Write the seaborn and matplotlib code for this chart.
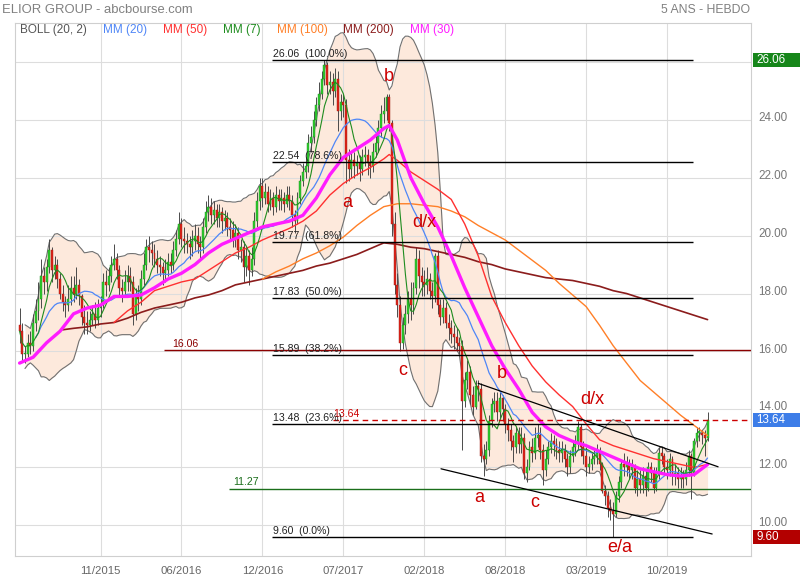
import numpy as np
import pandas as pd
import matplotlib
matplotlib.use("Agg")
import matplotlib.pyplot as plt
import matplotlib.transforms as mtransforms
from matplotlib.patches import Rectangle
import seaborn as sns

# weekly closes (bar 0 = spring 2015, last bar = Jan 2020)
first_open = 16.9
closes = [
    16.7, 15.9, 15.9, 16.3, 16.2, 17.0, 17.4, 17.8, 18.6, 18.4,
    18.9, 19.5, 18.8, 19.0, 18.5, 18.0, 17.7, 17.6, 17.8, 18.2,
    18.0, 18.3, 17.9, 17.2, 17.0, 16.9, 17.1, 17.3, 17.1, 17.5,
    17.6, 18.4, 18.3, 18.6, 19.0, 19.2, 18.8, 18.2, 18.1, 18.4,
    18.6, 18.4, 17.3, 17.9, 17.8, 18.5, 19.0, 19.6, 19.5, 19.4,
    19.2, 19.0, 18.9, 18.7, 18.8, 19.1, 19.0, 19.5, 19.9, 20.4,
    19.9, 19.8, 19.7, 19.6, 19.8, 20.0, 19.7, 19.6, 20.3, 20.8,
    21.0, 20.7, 20.9, 20.6, 20.8, 20.5, 20.6, 20.3, 20.2, 19.9,
    20.1, 19.5, 19.6, 18.9, 19.3, 18.8, 19.2, 20.5, 21.2, 21.7,
    21.3, 21.5, 21.1, 21.3, 21.0, 21.4, 21.2, 21.3, 21.1, 21.4,
    21.2, 20.7, 20.5, 21.3, 21.9, 22.2, 22.4, 23.2, 23.4, 24.0,
    24.5, 24.9, 25.4, 25.9, 25.2, 25.3, 25.0, 25.4, 24.3, 24.6,
    24.5, 22.6, 22.3, 22.6, 22.4, 22.5, 22.3, 22.7, 22.8, 22.5,
    22.4, 22.9, 23.2, 23.7, 24.2, 24.3, 24.8, 23.9, 20.4, 18.3,
    17.6, 16.3, 16.9, 17.3, 17.8, 17.6, 18.2, 19.2, 18.6, 18.4,
    18.3, 18.5, 18.1, 17.9, 19.3, 17.6, 17.2, 17.5, 17.0, 16.8,
    16.6, 16.5, 16.3, 16.2, 14.3, 15.0, 15.3, 14.5, 14.1, 14.8,
    14.7, 12.4, 12.3, 12.6, 13.6, 14.2, 14.3, 13.9, 14.4, 14.0,
    13.5, 13.3, 12.9, 12.7, 13.2, 12.8, 13.0, 11.8, 12.0, 12.7,
    12.5, 13.0, 13.1, 12.6, 11.9, 12.3, 12.7, 12.9, 12.8, 12.6,
    12.5, 12.6, 12.3, 12.0, 12.4, 12.7, 12.8, 13.4, 12.7, 12.4,
    12.0, 12.1, 12.3, 12.4, 12.5, 12.1, 11.2, 11.0, 10.6, 10.5,
    10.4, 11.0, 11.5, 12.1, 12.0, 12.1, 11.9, 12.0, 11.3, 11.6,
    11.4, 11.7, 11.3, 12.0, 11.8, 11.3, 11.8, 12.5, 12.4, 12.0,
    11.9, 12.3, 11.7, 11.8, 11.6, 11.7, 11.6, 11.9, 12.4, 11.8,
    12.9, 13.2, 13.2, 13.1, 13.0, 13.64,
]
highs = [
    17.5, 17.0, 16.2, 16.6, 16.7, 17.3, 17.8, 18.4, 19.2, 18.9,
    19.2, 19.9, 19.6, 19.3, 19.2, 18.7, 18.3, 17.9, 18.3, 18.6,
    18.6, 18.9, 18.5, 18.0, 17.6, 17.4, 17.4, 17.6, 17.7, 17.8,
    17.9, 18.7, 18.8, 18.9, 19.3, 19.7, 19.4, 19.0, 18.5, 18.8,
    19.0, 18.9, 18.6, 18.2, 18.3, 18.8, 19.4, 19.9, 20.0, 19.8,
    19.7, 19.5, 19.3, 19.1, 19.2, 19.4, 19.4, 19.8, 20.2, 20.8,
    20.6, 20.3, 20.1, 20.0, 20.2, 20.4, 20.3, 20.0, 20.6, 21.2,
    21.4, 21.3, 21.2, 21.1, 21.1, 21.0, 20.9, 20.8, 20.6, 20.5,
    20.4, 20.3, 19.9, 19.8, 19.6, 19.5, 19.6, 20.8, 21.5, 22.0,
    22.0, 21.8, 21.7, 21.6, 21.5, 21.7, 21.6, 21.6, 21.5, 21.7,
    21.7, 21.4, 20.9, 21.5, 22.1, 22.5, 22.7, 23.5, 23.8, 24.3,
    24.8, 25.3, 25.7, 26.06, 26.0, 25.7, 25.6, 25.8, 25.7, 24.9,
    24.9, 24.7, 23.0, 22.9, 22.9, 22.8, 22.8, 23.0, 23.1, 23.0,
    22.8, 23.2, 23.5, 24.0, 24.5, 24.8, 24.9, 24.9, 24.0, 20.8,
    18.7, 17.9, 17.2, 17.6, 18.1, 18.4, 18.4, 19.6, 19.5, 18.9,
    18.8, 18.9, 18.7, 18.4, 19.4, 19.5, 17.8, 17.8, 17.7, 17.3,
    17.1, 16.9, 16.8, 16.5, 16.4, 15.3, 15.7, 15.5, 14.8, 15.0,
    15.0, 14.9, 12.8, 12.9, 13.8, 14.4, 14.6, 14.6, 14.6, 14.5,
    14.2, 13.7, 13.5, 13.1, 13.4, 13.4, 13.4, 13.2, 12.3, 12.9,
    13.0, 13.4, 13.5, 13.4, 12.8, 12.6, 12.9, 13.2, 13.1, 13.0,
    12.9, 12.9, 12.8, 12.5, 12.6, 12.9, 13.1, 13.6, 13.5, 12.9,
    12.7, 12.4, 12.5, 12.6, 12.8, 12.7, 12.2, 11.4, 11.2, 10.9,
    10.8, 11.2, 11.7, 12.3, 12.5, 12.4, 12.3, 12.3, 12.1, 11.9,
    11.9, 12.0, 11.9, 12.2, 12.2, 12.0, 12.0, 12.7, 12.7, 12.5,
    12.3, 12.5, 12.4, 12.1, 12.0, 12.0, 11.9, 12.2, 12.6, 12.5,
    13.0, 13.4, 13.4, 13.3, 13.3, 13.9,
]
lows = [
    16.3, 15.7, 15.6, 15.8, 15.9, 16.0, 16.7, 17.1, 17.5, 18.0,
    18.1, 18.7, 18.4, 18.5, 18.2, 17.8, 17.4, 17.2, 17.4, 17.6,
    17.7, 17.8, 17.6, 16.9, 16.6, 16.6, 16.7, 16.9, 16.8, 16.9,
    17.2, 17.5, 17.9, 18.1, 18.4, 18.8, 18.5, 17.9, 17.7, 17.9,
    18.1, 18.1, 16.9, 17.1, 17.4, 17.6, 18.3, 18.8, 19.1, 19.0,
    18.9, 18.7, 18.6, 18.3, 18.4, 18.6, 18.7, 18.8, 19.3, 19.7,
    19.6, 19.4, 19.4, 19.2, 19.3, 19.5, 19.4, 19.2, 19.4, 20.1,
    20.5, 20.4, 20.4, 20.3, 20.3, 20.1, 20.2, 20.0, 19.8, 19.6,
    19.6, 19.2, 19.1, 18.4, 18.6, 18.3, 18.6, 19.0, 20.3, 20.9,
    21.0, 21.1, 20.8, 20.9, 20.7, 20.8, 20.9, 20.9, 20.8, 21.0,
    20.9, 20.3, 20.1, 20.4, 21.1, 21.7, 22.0, 22.2, 22.9, 23.2,
    23.8, 24.3, 24.7, 25.2, 24.9, 24.9, 24.5, 24.8, 23.6, 24.0,
    24.1, 21.8, 21.9, 22.0, 22.0, 22.1, 21.9, 22.1, 22.4, 22.1,
    22.0, 22.2, 22.7, 22.9, 23.4, 23.9, 24.0, 23.6, 20.0, 18.0,
    17.2, 16.0, 16.1, 16.6, 17.0, 17.1, 17.3, 18.0, 18.2, 17.9,
    17.9, 18.0, 17.8, 17.5, 17.7, 17.3, 16.9, 17.0, 16.8, 16.4,
    16.3, 16.1, 16.0, 15.9, 12.6, 14.1, 14.7, 14.2, 13.8, 14.0,
    14.3, 12.2, 11.7, 12.1, 12.4, 13.4, 13.9, 13.6, 13.7, 13.6,
    13.2, 12.9, 12.6, 12.2, 12.5, 12.5, 12.5, 11.6, 11.5, 11.9,
    12.2, 12.3, 12.7, 12.3, 11.4, 11.7, 12.1, 12.5, 12.4, 12.3,
    12.2, 12.2, 12.0, 11.7, 11.8, 12.2, 12.4, 12.6, 12.4, 12.1,
    11.7, 11.8, 11.9, 12.1, 12.1, 11.9, 11.1, 10.7, 10.3, 10.2,
    9.6, 10.3, 10.8, 11.3, 11.7, 11.7, 11.6, 11.6, 11.1, 11.0,
    11.1, 11.1, 11.0, 11.2, 11.5, 11.1, 11.2, 11.6, 12.1, 11.8,
    11.6, 11.7, 11.4, 11.4, 11.3, 11.3, 11.3, 11.4, 11.7, 10.9,
    11.7, 12.7, 12.9, 12.8, 12.4, 12.9,
]

# long moving averages at sample bars
mm30_bars = [0, 5, 10, 15, 20, 25, 30, 35, 40, 45, 50, 55, 60, 65, 70, 75, 80, 85, 90, 95,
             100, 105, 110, 115, 120, 125, 130, 135, 137, 140, 145, 150, 155, 160, 165, 170,
             175, 180, 185, 190, 195, 200, 205, 210, 215, 220, 225, 230, 235, 240, 245, 250, 255]
mm30_vals = [15.6, 15.8, 16.3, 16.7, 17.3, 17.5, 17.6, 17.9, 17.9, 17.95, 18.2, 18.5, 18.7, 19.0,
             19.4, 19.7, 19.9, 20.1, 20.3, 20.4, 20.5, 20.7, 21.3, 22.1, 22.7, 23.0, 23.3, 23.7,
             23.8, 23.3, 22.0, 21.1, 20.3, 19.3, 18.2, 17.2, 16.2, 15.4, 14.7, 13.9, 13.4, 13.1,
             12.9, 12.75, 12.55, 12.35, 12.15, 11.95, 11.85, 11.75, 11.7, 11.75, 12.1]
mm50_bars = [35, 40, 45, 50, 55, 60, 65, 70, 75, 80, 85, 90, 95, 100, 105, 110, 115, 120, 125,
             130, 135, 137, 140, 145, 150, 155, 160, 165, 170, 175, 180, 185, 190, 195, 200,
             205, 210, 215, 220, 225, 230, 235, 240, 245, 250, 255]
mm50_vals = [17.0, 17.4, 17.7, 18.1, 18.25, 18.4, 18.5, 18.8, 19.1, 19.4, 19.6, 19.85, 20.05,
             20.25, 20.5, 20.85, 21.4, 21.8, 22.1, 22.35, 22.65, 22.8, 22.6, 22.2, 21.9, 21.6,
             21.25, 20.4, 19.3, 17.9, 17.0, 16.2, 15.5, 14.95, 14.5, 14.1, 13.5, 12.95, 12.75,
             12.6, 12.45, 12.3, 12.2, 12.1, 12.0, 12.1]
mm100_bars = [90, 95, 100, 105, 110, 115, 120, 125, 130, 135, 140, 145, 150, 155, 160, 165, 170,
              175, 180, 185, 190, 195, 200, 205, 210, 215, 220, 225, 230, 235, 240, 245, 250, 255]
mm100_vals = [18.5, 18.75, 18.95, 19.2, 19.4, 19.65, 19.95, 20.35, 20.7, 21.0, 21.1, 21.1, 21.05,
              21.0, 20.85, 20.65, 20.35, 20.1, 19.85, 19.5, 19.15, 18.8, 18.35, 17.95, 17.55,
              16.9, 16.2, 15.6, 15.0, 14.6, 14.2, 13.8, 13.45, 13.1]
mm200_bars = [16, 20, 25, 30, 35, 40, 45, 50, 55, 60, 65, 70, 75, 80, 85, 90, 95, 100, 105, 110,
              115, 120, 125, 130, 135, 140, 145, 150, 155, 160, 165, 170, 175, 180, 185, 190,
              195, 200, 205, 210, 215, 220, 225, 230, 235, 240, 245, 250, 255]
mm200_vals = [16.75, 16.8, 16.85, 16.95, 17.0, 17.15, 17.35, 17.5, 17.6, 17.7, 17.85, 17.95,
              18.1, 18.3, 18.4, 18.5, 18.6, 18.7, 18.8, 18.95, 19.05, 19.2, 19.35, 19.55, 19.75,
              19.7, 19.6, 19.55, 19.45, 19.35, 19.25, 19.1, 19.0, 18.85, 18.75, 18.65, 18.55,
              18.5, 18.45, 18.35, 18.25, 18.1, 18.0, 17.85, 17.7, 17.55, 17.4, 17.25, 17.1]

# fibonacci retracement levels
fib_prices = [26.06, 22.54, 19.77, 17.83, 15.89, 13.48, 9.60]
fib_pcts = ["100.0%", "78.6%", "61.8%", "50.0%", "38.2%", "23.6%", "0.0%"]

# channel lines (bar, price) -> (bar, price)
channel_top = ([170, 258.9], [14.9, 12.02])
channel_bottom = ([156.2, 256.7], [11.95, 9.7])

wave_labels = ["b", "a", "d/x", "c", "b", "d/x", "a", "c", "e/a"]
wave_bars = [137, 121.5, 150, 141.9, 178.9, 212.2, 170.4, 191.1, 222.6]
wave_prices = [25.5, 21.15, 20.45, 15.35, 15.25, 14.35, 10.95, 10.8, 9.22]

tick_bars = [30, 60, 90, 120, 150, 180, 210, 240]
tick_labels = ["11/2015", "06/2016", "12/2016", "07/2017", "02/2018", "08/2018", "03/2019", "10/2019"]

sns.set_theme(style="white")
plt.rcParams["font.family"] = ["Liberation Sans", "DejaVu Sans"]

fig = plt.figure(figsize=(8, 5.8), dpi=100)
ax = fig.add_axes([15 / 800, 24 / 580, 736 / 800, 533 / 580])

n = len(closes)
x = np.arange(n)
c = np.array(closes)
o = np.array([first_open] + closes[:-1])
h = np.array(highs)
l = np.array(lows)

# bollinger (20, 2)
s = pd.Series(c)
mid = s.rolling(20, min_periods=3).mean()
sd = s.rolling(20, min_periods=3).std(ddof=0)
boll_up = mid + 2 * sd
boll_lo = mid - 2 * sd
ax.fill_between(x, boll_lo, boll_up, color="#fde9dc", linewidth=0, zorder=0.2)
sns.lineplot(x=x, y=boll_up, ax=ax, color="#707070", linewidth=0.8, zorder=1)
sns.lineplot(x=x, y=boll_lo, ax=ax, color="#707070", linewidth=0.8, zorder=1)

# candles
ax.vlines(x, l, h, color="#4a4a4a", linewidth=0.7, zorder=3)
body = np.where(np.abs(c - o) < 0.05, 0.05, c - o)
rise = c >= o
ax.bar(x[rise], body[rise], bottom=o[rise], width=0.72, color="#2ecc2e",
       edgecolor="#1d8a1d", linewidth=0.3, zorder=4)
ax.bar(x[~rise], body[~rise], bottom=o[~rise], width=0.72, color="#e0231a",
       edgecolor="#9a1a10", linewidth=0.3, zorder=4)

# moving averages
mm7 = s.rolling(7, min_periods=1).mean()
mm20 = s.rolling(20, min_periods=7).mean()
sns.lineplot(x=mm200_bars, y=mm200_vals, ax=ax, color="#8b1c1c", linewidth=1.2, zorder=5)
sns.lineplot(x=mm100_bars, y=mm100_vals, ax=ax, color="#ff7f27", linewidth=1.0, zorder=5)
sns.lineplot(x=mm50_bars, y=mm50_vals, ax=ax, color="#ff3030", linewidth=1.0, zorder=5)
sns.lineplot(x=x, y=mm20, ax=ax, color="#4f86f7", linewidth=0.9, zorder=5)
sns.lineplot(x=x, y=mm7, ax=ax, color="#1f8c1f", linewidth=0.8, zorder=5)
sns.lineplot(x=mm30_bars, y=mm30_vals, ax=ax, color="#ff1cff", linewidth=2.4, zorder=6)

xmin, xmax = -1.7, 271.1
ax.set_xlim(xmin, xmax)
ax.set_ylim(8.94, 27.34)
ax.set_xlabel("")
ax.set_ylabel("")

# fibonacci levels
for p, pct in zip(fib_prices, fib_pcts):
    ax.hlines(p, 93.7, 249.6, color="black", linewidth=1.0, zorder=7)
    ax.text(94, p + 0.04, f"{p:.2f}  ({pct})", fontsize=7.6, color="#222222",
            ha="left", va="bottom", zorder=8)

# support / resistance
ax.hlines(16.06, 53.7, xmax, color="#8b0000", linewidth=1.0, zorder=7)
ax.text(56.7, 16.1, "16.06", fontsize=7.6, color="#8b0000", ha="left", va="bottom")
ax.hlines(11.27, 77.8, xmax, color="#1a6e1a", linewidth=1.0, zorder=7)
ax.text(79.3, 11.31, "11.27", fontsize=7.6, color="#1a6e1a", ha="left", va="bottom")
ax.hlines(13.64, 116.3, xmax, color="#cc0000", linewidth=1.0, linestyles=(0, (4, 3)), zorder=7)
ax.text(116.3, 13.67, "13.64", fontsize=7.6, color="#cc0000", ha="left", va="bottom")

sns.lineplot(x=channel_top[0], y=channel_top[1], ax=ax, color="black", linewidth=0.9, zorder=7)
sns.lineplot(x=channel_bottom[0], y=channel_bottom[1], ax=ax, color="black", linewidth=0.9, zorder=7)

for lab, bx, py in zip(wave_labels, wave_bars, wave_prices):
    ax.text(bx, py, lab, fontsize=13, color="#cc0000", ha="center", va="center", zorder=9)

# axes styling
ax.grid(True, color="#dddddd", linewidth=0.8)
ax.set_axisbelow(True)
for sp in ax.spines.values():
    sp.set_color("#cfcfcf")
    sp.set_linewidth(0.8)

ax.set_xticks(tick_bars)
ax.set_xticklabels(tick_labels)
ax.tick_params(axis="x", length=0, pad=7, labelsize=8.2, labelcolor="#666666")

yt = [10, 12, 14, 16, 18, 20, 22, 24, 26]
ax.yaxis.tick_right()
ax.set_yticks(yt)
ax.set_yticklabels([f"{v:.2f}" if v < 26 else "" for v in yt])
ax.tick_params(axis="y", length=0, pad=5, labelsize=8.4, labelcolor="#777777")
lift = mtransforms.ScaledTranslation(0, 2.5 / 72, fig.dpi_scale_trans)
for lbl in ax.get_yticklabels():
    lbl.set_transform(lbl.get_transform() + lift)

# price badges on the right
trans = mtransforms.blended_transform_factory(ax.transAxes, ax.transData)
for p, col in [(26.06, "#16861a"), (13.64, "#3d7de8"), (9.60, "#b30000")]:
    ax.add_patch(Rectangle((1.003, p - 0.24), 0.07, 0.48, transform=trans,
                           facecolor=col, edgecolor="none", clip_on=False, zorder=10))
    ax.text(1.007, p, f"{p:.2f}", transform=trans, fontsize=8.4, color="white",
            ha="left", va="center", zorder=11, clip_on=False)

# legend row
legend_items = [("BOLL (20, 2)", "#555555", 0.0068), ("MM (20)", "#4f86f7", 0.1196),
                ("MM (50)", "#ff3030", 0.201), ("MM (7)", "#1f8c1f", 0.2826),
                ("MM (100)", "#ff7f27", 0.356), ("MM (200)", "#8b1c1c", 0.4457),
                ("MM (30)", "#ff1cff", 0.5367)]
for txt, col, px in legend_items:
    ax.text(px, 0.986, txt, transform=ax.transAxes, fontsize=8.5, color=col,
            ha="left", va="center", zorder=11)

fig.text(0.003, 1 - 10 / 580, "ELIOR GROUP - abcbourse.com", fontsize=9.4,
         color="#808080", ha="left", va="center")
fig.text(750 / 800, 1 - 10 / 580, "5 ANS - HEBDO", fontsize=8.8,
         color="#808080", ha="right", va="center")

fig.savefig("out.png", dpi=100)
